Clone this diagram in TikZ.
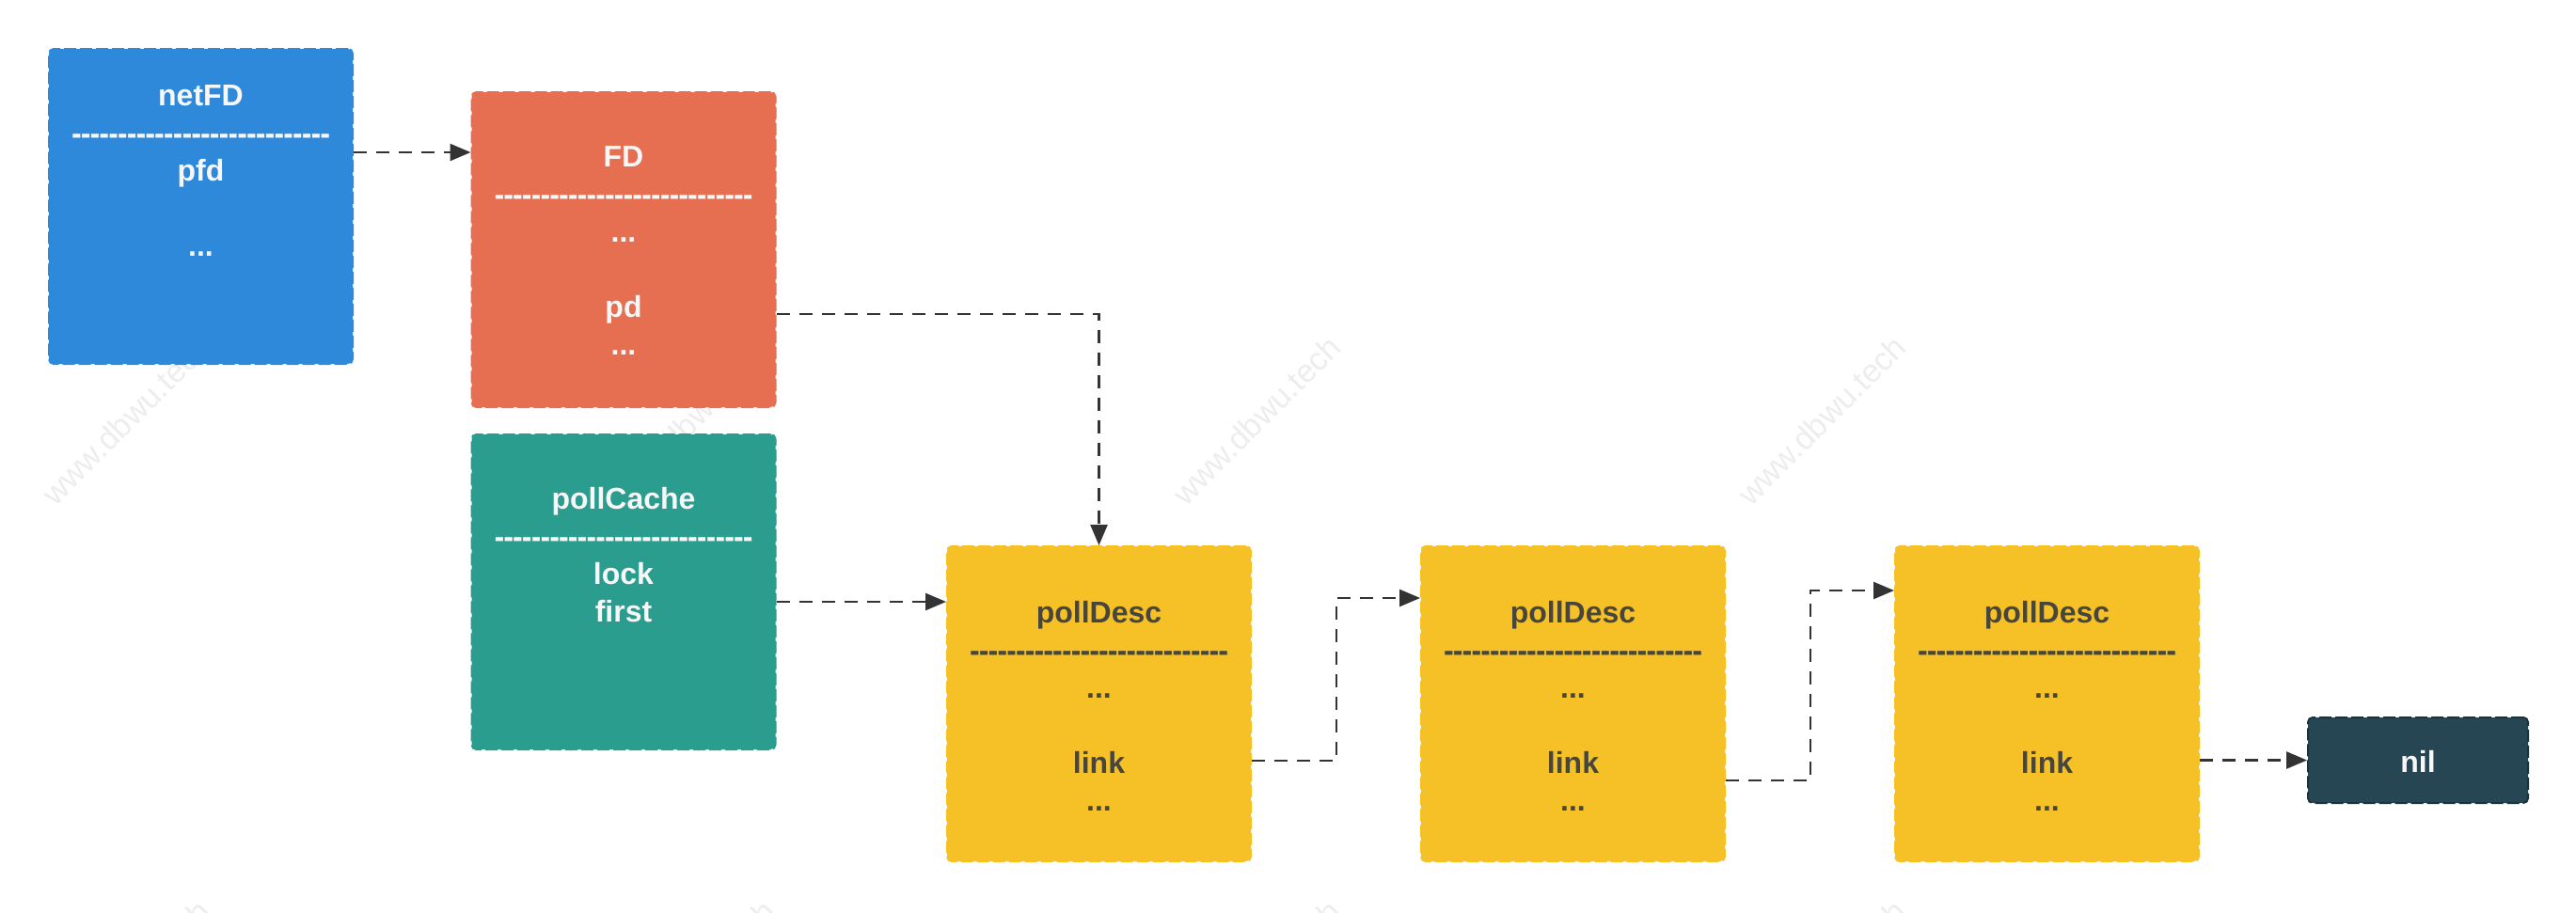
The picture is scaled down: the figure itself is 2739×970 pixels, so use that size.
\documentclass[tikz,border=0pt]{standalone}
\usepackage{fontspec}
\setmainfont{Liberation Sans}
\newfontfamily\dashfont{Liberation Sans}[FakeBold=1.5]
\usetikzlibrary{arrows.meta}
\definecolor{cblue}{HTML}{2E89DA}
\definecolor{corange}{HTML}{E76F51}
\definecolor{cteal}{HTML}{2A9D8F}
\definecolor{cyellow}{HTML}{F6C127}
\definecolor{cnil}{HTML}{264653}
\definecolor{cnilb}{HTML}{1C333C}
\definecolor{cline}{HTML}{333333}
\definecolor{cwhite}{HTML}{F7F7F7}
\definecolor{cdark}{HTML}{46463F}
\definecolor{cwm}{HTML}{EDEDED}
\newcommand\dashrow{{\dashfont\fontsize{29.4}{34}\selectfont\bfseries\foreach \k in {1,...,28}{-\kern0pt}}}
\begin{document}
\begin{tikzpicture}[x=1pt,y=-1pt,
  box/.style={rectangle, rounded corners=5pt, line width=2pt, dash pattern=on 13pt off 4pt,
    inner sep=0pt, minimum width=323pt, minimum height=335pt, draw=#1, fill=#1},
  txt/.style={anchor=base, inner sep=0pt, font=\fontsize{32}{38}\selectfont\bfseries, text=#1},
  conn/.style={draw=cline, line width=2.5pt, dash pattern=on 14pt off 10pt,
    -{Triangle[length=22pt,width=18pt]}},
  wm/.style={rotate=45, text=cwm, font=\fontsize{34}{40}\selectfont, inner sep=0pt}]
\useasboundingbox (0,0) rectangle (2739,970);
\fill[white] (0,0) rectangle (2739,970);
% watermarks
\begin{scope}
\clip (0,0) rectangle (2739,970);
\foreach \wx/\wn in {134/a,735/b,1336/c,1937/d}{
  \node[wm] (wm1\wn) at (\wx,447) {www.dbwu.tech};
  \node[wm] (wm2\wn) at (\wx,1047) {www.dbwu.tech};
}
\end{scope}
% boxes
\node[box=cblue] (netFD) at (213.5,219.5) {};
\node[box=corange] (FD) at (663,265.5) {};
\node[box=cteal] (pollCache) at (663,629.5) {};
\node[box=cyellow] (pd1) at (1168.5,748.5) {};
\node[box=cyellow] (pd2) at (1672.5,748.5) {};
\node[box=cyellow] (pd3) at (2176.5,748.5) {};
\node[box=cnil, draw=cnilb, minimum width=234pt, minimum height=91pt] (nil) at (2571,808.5) {};
% netFD text
\node[txt=cwhite] (netFD1) at (213.5,112) {netFD};
\node[txt=cwhite] (netFD2) at (213.5,152) {\dashrow};
\node[txt=cwhite] (netFD3) at (213.5,192) {pfd};
\node[txt=cwhite] (netFD4) at (213.5,272) {...};
% FD text
\node[txt=cwhite] (FD1) at (663,177) {FD};
\node[txt=cwhite] (FD2) at (663,217) {\dashrow};
\node[txt=cwhite] (FD3) at (663,257) {...};
\node[txt=cwhite] (FD4) at (663,337) {pd};
\node[txt=cwhite] (FD5) at (663,377) {...};
% pollCache text
\node[txt=cwhite] (pc1) at (663,541) {pollCache};
\node[txt=cwhite] (pc2) at (663,581) {\dashrow};
\node[txt=cwhite] (pc3) at (663,621) {lock};
\node[txt=cwhite] (pc4) at (663,661) {first};
% pollDesc texts
\foreach \n/\px in {pd1/1168.5,pd2/1672.5,pd3/2176.5}{
  \node[txt=cdark] (\n-1) at (\px,662) {pollDesc};
  \node[txt=cdark] (\n-2) at (\px,702) {\dashrow};
  \node[txt=cdark] (\n-3) at (\px,742) {...};
  \node[txt=cdark] (\n-4) at (\px,822) {link};
  \node[txt=cdark] (\n-5) at (\px,862) {...};
}
\node[txt=cwhite] (nilt) at (2571,821) {nil};
% connectors
\draw[conn] (netFD.east |- 0,162) -- (FD.west |- 0,162);
\draw[conn] (FD.east |- 0,334) -| (pd1.north);
\draw[conn] (pollCache.east |- 0,640) -- (pd1.west |- 0,640);
\draw[conn] (pd1.east |- 0,809) -- ++(90,0) |- (pd2.west |- 0,636);
\draw[conn] (pd2.east |- 0,830) -- ++(90,0) |- (pd3.west |- 0,628);
\draw[conn] (pd3.east |- nil.west) -- (nil.west);
\end{tikzpicture}
\end{document}
